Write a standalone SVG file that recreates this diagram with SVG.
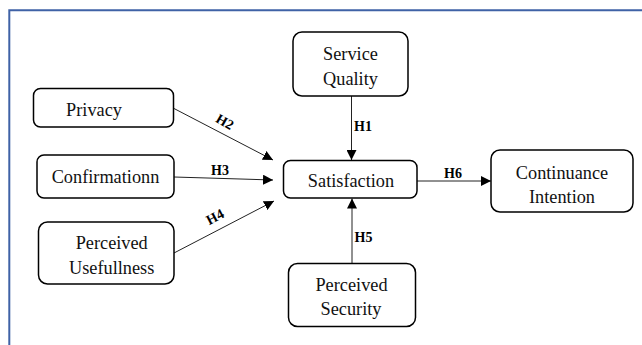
<svg xmlns="http://www.w3.org/2000/svg" width="642" height="345" viewBox="0 0 642 345">
<defs>
<marker id="ah" viewBox="0 0 10 10" refX="10" refY="5" markerWidth="10" markerHeight="10" markerUnits="userSpaceOnUse" orient="auto">
<path d="M0,0 L10,5 L0,10 Z" fill="#000"/>
</marker>
<style>
.box{fill:#fff;stroke:#000;stroke-width:1.5}
.t{font-family:'Liberation Serif',serif;font-size:18.3px;fill:#111;text-anchor:middle}
.h{font-family:'Liberation Serif',serif;font-size:14px;font-weight:bold;fill:#000;text-anchor:middle}
.c{stroke:#222;stroke-width:1;fill:none;marker-end:url(#ah)}
.frame{stroke:#3F62A6;stroke-width:2;fill:none}
</style>
</defs>
<rect width="642" height="345" fill="#fff"/>
<path class="frame" d="M9.3,345 L9.3,10.3 L642,10.3"/>
<g id="connectors">
<line class="c" x1="351.5" y1="96" x2="351.5" y2="160"/>
<line class="c" x1="352" y1="263" x2="352" y2="198.5"/>
<line class="c" x1="417" y1="181" x2="491" y2="181"/>
<line class="c" x1="174" y1="108.5" x2="273" y2="160"/>
<line class="c" x1="174" y1="177" x2="273" y2="180"/>
<line class="c" x1="174" y1="253" x2="274" y2="201"/>
<text class="h" x="363" y="131">H1</text>
<text class="h" x="225" y="126.5" transform="rotate(30 225 121.7)">H2</text>
<text class="h" x="220" y="175">H3</text>
<text class="h" x="215" y="221.5" transform="rotate(-28 215 216.7)">H4</text>
<text class="h" x="363.5" y="242">H5</text>
<text class="h" x="453" y="178">H6</text>
</g>
<g id="service-quality">
<rect class="box" x="293" y="32" width="115" height="64" rx="9"/>
<text class="t" x="350.5" y="60" font-family="Liberation Serif, serif">Service</text>
<text class="t" x="350.5" y="85" font-family="Liberation Serif, serif">Quality</text>
</g>
<g id="privacy">
<rect class="box" x="33.5" y="88.5" width="140" height="38.5" rx="7"/>
<text class="t" x="94" y="116">Privacy</text>
</g>
<g id="confirmationn">
<rect class="box" x="37" y="155" width="137" height="43" rx="7"/>
<text class="t" x="105.5" y="182.5">Confirmationn</text>
</g>
<g id="perceived-usefullness">
<rect class="box" x="38.5" y="222" width="135.5" height="62" rx="9"/>
<text class="t" x="111.7" y="249">Perceived</text>
<text class="t" x="111.7" y="274">Usefullness</text>
</g>
<g id="satisfaction">
<rect class="box" x="283.5" y="160.5" width="133.5" height="37.5" rx="7"/>
<text class="t" x="351" y="187">Satisfaction</text>
</g>
<g id="continuance-intention">
<rect class="box" x="491" y="150" width="142" height="62" rx="9"/>
<text class="t" x="562" y="179">Continuance</text>
<text class="t" x="562" y="203">Intention</text>
</g>
<g id="perceived-security">
<rect class="box" x="288.5" y="263.5" width="127" height="63" rx="9"/>
<text class="t" x="351.5" y="291">Perceived</text>
<text class="t" x="351" y="315">Security</text>
</g>
</svg>
